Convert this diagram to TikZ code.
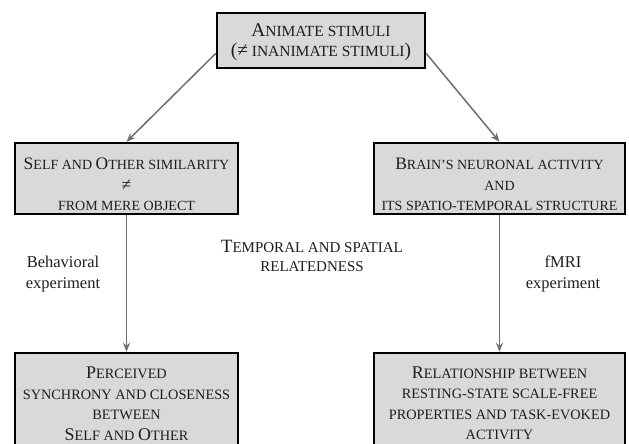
\documentclass[tikz,border=0pt]{standalone}
\usepackage{fontspec}
\setmainfont{Liberation Serif}
\usetikzlibrary{arrows.meta}
\definecolor{boxgray}{HTML}{D9D9D9}
\definecolor{arrowgray}{HTML}{6E6E6E}
\definecolor{txtcol}{HTML}{1E1E1E}
\newcommand\Bg[1]{\scalebox{1.25}{#1}}
\begin{document}
\begin{tikzpicture}[x=1pt,y=-1pt,
  box/.style={draw=black, line width=2.4pt, fill=boxgray, inner sep=0pt},
  txt/.style={text=txtcol, align=center, inner sep=0pt},
  conn/.style={draw=arrowgray, line width=1.5pt, -{Stealth[length=9pt,width=7pt]}}]
\useasboundingbox (0,0) rectangle (629,444);
\clip (0,0) rectangle (629,444);
\fill[white] (0,0) rectangle (629,444);

% boxes
\node[box, minimum width=208pt, minimum height=55pt] (top) at (321,40.5) {};
\node[box, minimum width=223pt, minimum height=71pt] (midL) at (126.5,178.5) {};
\node[box, minimum width=251pt, minimum height=71pt] (midR) at (499.5,178.5) {};
\node[box, minimum width=223pt, minimum height=117pt] (botL) at (126.5,411.5) {};
\node[box, minimum width=251pt, minimum height=117pt] (botR) at (499.5,411.5) {};

% box texts
\node[txt, font=\fontsize{15.5}{20}\selectfont] (topT) at (321,42)
  {\Bg{A}NIMATE STIMULI\\\Bg{(≠} INANIMATE STIMULI\Bg{)}};
\node[txt, font=\fontsize{14}{20.5}\selectfont] (midLT) at (126.5,184.5)
  {\Bg{S}ELF AND \Bg{O}THER SIMILARITY\\\Bg{≠}\\FROM MERE OBJECT};
\node[txt, font=\fontsize{14}{20.5}\selectfont] (midRT) at (499.5,184.5)
  {\Bg{B}RAIN’S NEURONAL ACTIVITY\\AND\\ITS SPATIO-TEMPORAL STRUCTURE};
\node[txt, font=\fontsize{14.3}{20.5}\selectfont] (botLT) at (126.5,403.5)
  {\Bg{P}ERCEIVED\\SYNCHRONY AND CLOSENESS\\BETWEEN\\\Bg{S}ELF AND \Bg{O}THER};
\node[txt, font=\fontsize{14.3}{20.5}\selectfont] (botRT) at (499.5,403.5)
  {\Bg{R}ELATIONSHIP BETWEEN\\RESTING-STATE SCALE-FREE\\PROPERTIES AND TASK-EVOKED\\ACTIVITY};

% free labels
\node[txt, font=\fontsize{15}{19}\selectfont] (rel) at (312,256)
  {\Bg{T}EMPORAL AND SPATIAL\\RELATEDNESS};
\node[txt, font=\fontsize{16.5}{21}\selectfont] (beh) at (63,274)
  {Behavioral\\experiment};
\node[txt, font=\fontsize{16.5}{21}\selectfont] (fmri) at (563,274)
  {fMRI\\experiment};

% connectors
\draw[conn] (top.-173) -- (midL.north);
\draw[conn] (top.-7) -- (midR.north);
\draw[conn] (midL.south) -- (botL.north);
\draw[conn] (midR.south) -- (botR.north);
\end{tikzpicture}
\end{document}
